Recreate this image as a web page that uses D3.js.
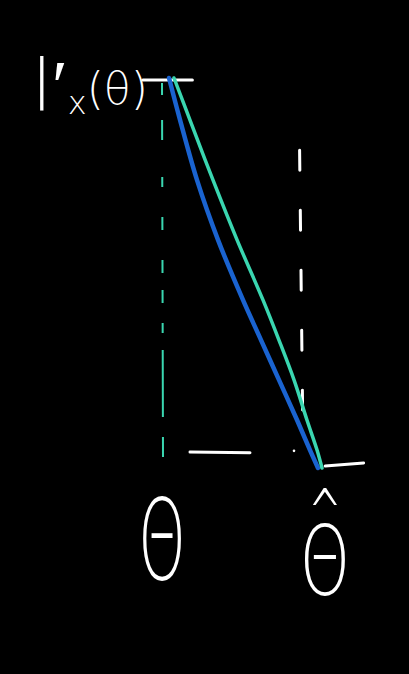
<!DOCTYPE html>
<html>
<head>
<meta charset="utf-8">
<script src="https://cdn.jsdelivr.net/npm/d3@7"></script>
<style>
  html, body { margin: 0; padding: 0; background: #000; }
  svg { display: block; }
</style>
</head>
<body>
<div id="chart"></div>
<script>
// score level, 1 at theta, 0 at theta-hat
const levels = [1, 0.892, 0.738, 0.585, 0.431, 0.328, 0.226, 0.123, 0.046, 0];
// blue sketch of l'_x along theta (0 = theta, 1 = theta-hat)
const blueTheta = [0.044, 0.113, 0.219, 0.35, 0.506, 0.619, 0.731, 0.844, 0.925, 0.975];
// teal line
const tealTheta = [0.075, 0.175, 0.319, 0.469, 0.631, 0.731, 0.825, 0.906, 0.969, 1.0];
// markers on the theta axis
const thetaMarks = [0, 0.86];
const yLabel = ["l′", "x", "(θ)"];
const xLabels = ["Θ", "^", "Θ"];

const W = 409, H = 674;
const svg = d3.select("#chart").append("svg")
    .attr("width", W).attr("height", H)
    .style("background", "#000");

const x = d3.scaleLinear().domain([0, 1]).range([162, 322]);
const y = d3.scaleLinear().domain([0, 1]).range([468, 78]);

const line = d3.line()
    .x(d => x(d[0]))
    .y(d => y(d[1]))
    .curve(d3.curveCatmullRom);

// teal dashed drop line at theta (uneven hand-drawn dashes)
svg.append("line")
    .attr("x1", x(thetaMarks[0])).attr("x2", x(thetaMarks[0]) + 1)
    .attr("y1", y(0.987)).attr("y2", y(0.028))
    .attr("stroke", "#3ad6b0").attr("stroke-width", 2)
    .attr("stroke-dasharray", "12,25,20,37,10,30,13,30,13,17,13,20,10,17,67,20,20,60");

// white dashed line near theta-hat
svg.append("line")
    .attr("x1", x(thetaMarks[1])).attr("x2", x(thetaMarks[1]) + 3)
    .attr("y1", y(0.815)).attr("y2", y(0.149))
    .attr("stroke", "#fff").attr("stroke-width", 3)
    .attr("stroke-linecap", "round")
    .attr("stroke-dasharray", "20,40");

// level tick at the top
svg.append("line")
    .attr("x1", x(-0.12)).attr("x2", x(0.19))
    .attr("y1", y(1) + 2).attr("y2", y(1) + 2)
    .attr("stroke", "#fff").attr("stroke-width", 3)
    .attr("stroke-linecap", "round");

// baseline pieces
svg.append("line")
    .attr("x1", x(0.175)).attr("x2", x(0.55))
    .attr("y1", y(0.041)).attr("y2", y(0.039))
    .attr("stroke", "#fff").attr("stroke-width", 3)
    .attr("stroke-linecap", "round");
svg.append("circle")
    .attr("cx", x(0.825)).attr("cy", y(0.044)).attr("r", 1.3)
    .attr("fill", "#fff");
svg.append("line")
    .attr("x1", x(1.02)).attr("x2", x(1.26))
    .attr("y1", y(0.005)).attr("y2", y(0.013))
    .attr("stroke", "#fff").attr("stroke-width", 3)
    .attr("stroke-linecap", "round");

// blue and teal curves
svg.append("path")
    .datum(blueTheta.map((t, i) => [t, levels[i]]))
    .attr("d", line)
    .attr("fill", "none")
    .attr("stroke", "#1a63d0").attr("stroke-width", 4.5)
    .attr("stroke-linecap", "round");

svg.append("path")
    .datum(tealTheta.map((t, i) => [t, levels[i]]))
    .attr("d", line)
    .attr("fill", "none")
    .attr("stroke", "#3ad6b0").attr("stroke-width", 3.5)
    .attr("stroke-linecap", "round");

// y label  l'_x(theta)
const lab = svg.append("text")
    .attr("x", 32).attr("y", 110)
    .attr("fill", "#fff")
    .style("font-family", "DejaVu Sans")
    .style("font-weight", "200");
lab.append("tspan").text(yLabel[0]).style("font-size", "72px");
lab.append("tspan").text(yLabel[1]).attr("dy", 4).style("font-size", "32px");
lab.append("tspan").text(yLabel[2]).attr("dy", -10).style("font-size", "44px");

// theta labels under the axis
svg.append("text")
    .attr("transform", `translate(${x(0)},579) scale(0.54,1)`)
    .attr("text-anchor", "middle")
    .attr("fill", "#fff")
    .style("font-family", "DejaVu Sans")
    .style("font-weight", "200")
    .style("font-size", "112px")
    .text(xLabels[0]);

// theta-hat: hat and letter in one text
const hat = svg.append("text")
    .attr("transform", `translate(${x(1) + 3},595) scale(0.64,0.96)`)
    .attr("text-anchor", "middle")
    .attr("fill", "#fff")
    .style("font-family", "DejaVu Sans")
    .style("font-weight", "200");
hat.append("tspan").attr("x", 0).attr("y", -64)
    .style("font-size", "64px").text(xLabels[1]);
hat.append("tspan").attr("x", 0).attr("y", 0)
    .style("font-size", "100px").text(xLabels[2]);
</script>
</body>
</html>
